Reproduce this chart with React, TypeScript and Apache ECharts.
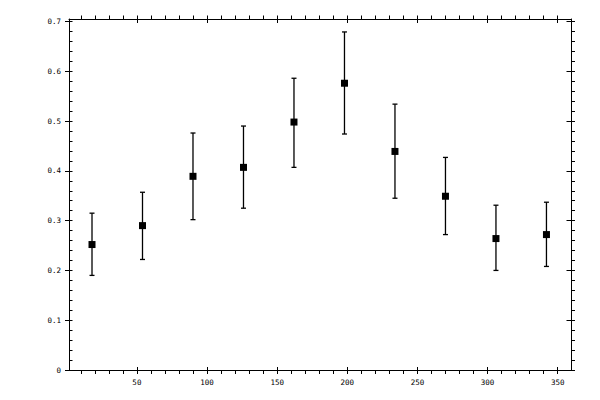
import { useEffect, useRef } from "react";
import * as echarts from "echarts";

const binCenters = [18, 54, 90, 126, 162, 198, 234, 270, 306, 342];
const means = [0.252, 0.29, 0.389, 0.407, 0.498, 0.576, 0.439, 0.349, 0.264, 0.272];
const upper = [0.315, 0.357, 0.476, 0.49, 0.586, 0.679, 0.534, 0.427, 0.331, 0.337];
const lower = [0.19, 0.222, 0.302, 0.325, 0.407, 0.474, 0.345, 0.272, 0.2, 0.208];

const xMajor = [50, 100, 150, 200, 250, 300, 350];
const xAll = [10, 20, 30, 40, 50, 60, 70, 80, 90, 100, 110, 120, 130, 140, 150, 160, 170, 180, 190, 200, 210, 220, 230, 240, 250, 260, 270, 280, 290, 300, 310, 320, 330, 340, 350];
const yMajor = [0, 0.1, 0.2, 0.3, 0.4, 0.5, 0.6, 0.7];
const yAll = [
  0, 0.02, 0.04, 0.06, 0.08, 0.1, 0.12, 0.14, 0.16, 0.18, 0.2, 0.22, 0.24, 0.26, 0.28, 0.3, 0.32, 0.34, 0.36, 0.38,
  0.4, 0.42, 0.44, 0.46, 0.48, 0.5, 0.52, 0.54, 0.56, 0.58, 0.6, 0.62, 0.64, 0.66, 0.68, 0.7
];

const X_MIN = 1.6;
const X_MAX = 359.5;
const Y_MIN = 0;
const Y_MAX = 0.705;

const ink = "#000";
const labelFont = { color: ink, fontFamily: "DejaVu Sans Mono", fontSize: 7.5 };

function tickAxis(position: string, values: number[], inside: boolean, length: number, showLine: boolean) {
  return {
    type: "value",
    position,
    axisLine: { show: showLine, onZero: false, lineStyle: { color: ink, width: 1 } },
    axisTick: { show: true, customValues: values, inside, length, lineStyle: { color: ink, width: 1 } },
    axisLabel: { show: false },
    splitLine: { show: false }
  };
}

export default function App() {
  const chartRef = useRef<HTMLDivElement | null>(null);

  useEffect(() => {
    if (!chartRef.current) {
      return;
    }

    const chart = echarts.init(chartRef.current, null, { renderer: "svg" });
    const xRange = { min: X_MIN, max: X_MAX };
    const yRange = { min: Y_MIN, max: Y_MAX };

    chart.setOption({
      animation: false,
      grid: { left: 69, right: 29, top: 19, bottom: 30 },
      xAxis: [
        {
          ...tickAxis("bottom", xAll, false, 4, true),
          ...xRange,
          axisLabel: { ...labelFont, show: true, customValues: xMajor, margin: 8 }
        },
        { ...tickAxis("bottom", xMajor, true, 3, false), ...xRange },
        { ...tickAxis("top", xAll, false, 3.5, true), ...xRange },
        { ...tickAxis("top", xMajor, true, 4, false), ...xRange }
      ],
      yAxis: [
        {
          ...tickAxis("left", yAll, true, 3.5, true),
          ...yRange,
          axisLabel: { ...labelFont, show: true, customValues: yMajor, margin: 8, formatter: (v: number) => String(v) }
        },
        { ...tickAxis("left", yMajor, false, 4, false), ...yRange },
        { ...tickAxis("right", yAll, false, 4, true), ...yRange },
        { ...tickAxis("right", yMajor, true, 4.5, false), ...yRange }
      ],
      series: [
        {
          type: "custom",
          xAxisIndex: 0,
          yAxisIndex: 0,
          data: binCenters.map((x, i) => [x, lower[i], upper[i]]),
          encode: { x: 0, y: [1, 2] },
          renderItem: (_params: any, api: any) => {
            const x = api.value(0);
            const top = api.coord([x, api.value(2)]);
            const bot = api.coord([x, api.value(1)]);
            const hw = 2.5;
            const style = { stroke: ink, lineWidth: 1.3 };
            return {
              type: "group",
              children: [
                { type: "line", shape: { x1: top[0], y1: top[1], x2: bot[0], y2: bot[1] }, style },
                { type: "line", shape: { x1: top[0] - hw, y1: top[1], x2: top[0] + hw, y2: top[1] }, style },
                { type: "line", shape: { x1: bot[0] - hw, y1: bot[1], x2: bot[0] + hw, y2: bot[1] }, style }
              ]
            };
          }
        },
        {
          type: "scatter",
          xAxisIndex: 0,
          yAxisIndex: 0,
          z: 3,
          symbol: "rect",
          symbolSize: 7,
          itemStyle: { color: ink, opacity: 1 },
          data: binCenters.map((x, i) => [x, means[i]])
        }
      ]
    });

    return () => {
      chart.dispose();
    };
  }, []);

  return (
    <div
      ref={chartRef}
      style={{ position: "fixed", left: 0, top: 0, width: 600, height: 400, background: "#fff" }}
    />
  );
}
